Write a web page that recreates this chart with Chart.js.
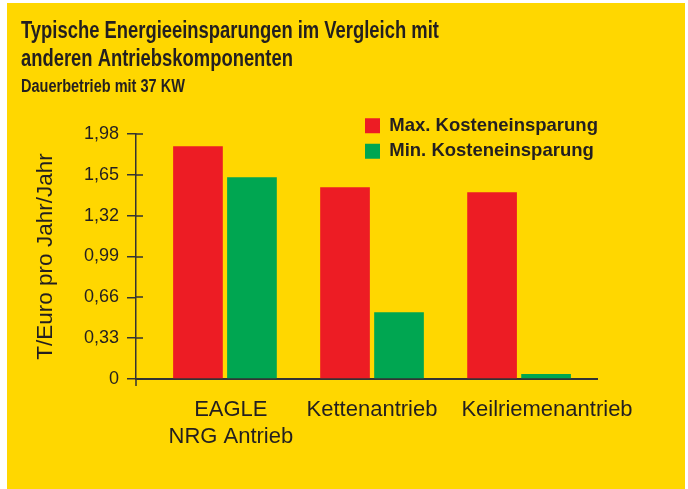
<!DOCTYPE html>
<html>
<head>
<meta charset="utf-8">
<script src="https://cdn.jsdelivr.net/npm/chart.js@4"></script>
<style>
  html, body { margin: 0; padding: 0; background: #ffffff; }
  #bg { position: absolute; left: 7px; top: 3px; width: 678px; height: 486px; background: #FFD700; }
  #c { position: absolute; left: 0; top: 0; }
</style>
</head>
<body>
<div id="bg"></div>
<canvas id="c" width="688" height="489"></canvas>
<script>
// ---- data ----
const categories = [['EAGLE', 'NRG Antrieb'], 'Kettenantrieb', 'Keilriemenantrieb'];
const seriesNames = ['Max. Kosteneinsparung', 'Min. Kosteneinsparung'];
const maxSavings = [1.88, 1.55, 1.51];
const minSavings = [1.63, 0.54, 0.04];
const yTickValues = [0, 0.33, 0.66, 0.99, 1.32, 1.65, 1.98];
const yTickLabels = ['0', '0,33', '0,66', '0,99', '1,32', '1,65', '1,98'];

// ---- layout / style ----
const labelPos = [0.04, 1.0, 2.19];   // x positions of the category labels
const TXT = '#231F20';
const AXIS = '#333333';
const SANS = '"Liberation Sans", Arial, Helvetica, sans-serif';
const TITLE_TEXT = ['Typische Energieeinsparungen im Vergleich mit', 'anderen Antriebskomponenten'];
const SUBTITLE_TEXT = 'Dauerbetrieb mit 37 KW';

const toXY = (arr) => arr.map((v, i) => ({ x: i, y: v }));

// horizontally condense a title box (the reference uses a condensed face)
function condense(box, sx) {
  if (!box || box._condensed) return;
  const orig = box.draw.bind(box);
  box.draw = function (area) {
    const ctx = this.ctx;
    ctx.save();
    ctx.translate(this.left, 0);
    ctx.scale(sx, 1);
    ctx.translate(-this.left, 0);
    orig(area);
    ctx.restore();
  };
  box._condensed = true;
}

const axisExtras = {
  id: 'axisExtras',
  afterLayout(chart) {
    const leg = chart.legend;
    if (leg) {
      leg.left = 358; leg.top = 109.5;
      leg.right = 688; leg.bottom = 175;
      leg.width = leg.right - leg.left; leg.height = leg.bottom - leg.top;
    }
    chart.boxes.forEach(b => {
      if (b === chart.titleBlock) condense(b, 0.80);
      else if (b.options && b.options.text === SUBTITLE_TEXT) condense(b, 0.83);
    });
  },
  afterDraw(chart) {
    const ctx = chart.ctx, ys = chart.scales.y, ca = chart.chartArea;
    ctx.save();
    ctx.strokeStyle = AXIS;
    ctx.lineWidth = 1.5;
    ctx.beginPath();
    ys.ticks.forEach(t => {
      const py = Math.round(ys.getPixelForValue(t.value));
      ctx.moveTo(ca.left, py);
      ctx.lineTo(ca.left + 7, py);
    });
    ctx.moveTo(ca.left, ca.bottom);
    ctx.lineTo(ca.left, ca.bottom + 7);
    ctx.stroke();
    ctx.restore();
  }
};

new Chart(document.getElementById('c'), {
  type: 'bar',
  data: {
    datasets: [
      { label: seriesNames[0], data: toXY(maxSavings), backgroundColor: '#ED1C24', borderWidth: 0 },
      { label: seriesNames[1], data: toXY(minSavings), backgroundColor: '#00A651', borderWidth: 0 }
    ]
  },
  options: {
    responsive: false,
    animation: false,
    devicePixelRatio: 1,
    categoryPercentage: 0.765,
    barPercentage: 0.92,
    layout: { padding: { left: 21, right: 91, top: 3, bottom: 0 } },
    plugins: {
      title: {
        display: true,
        text: TITLE_TEXT,
        align: 'start',
        color: TXT,
        font: { family: SANS, size: 23, weight: 'bold', lineHeight: 28 / 23 },
        padding: { top: 14.5, bottom: 3.6 }
      },
      subtitle: {
        display: true,
        text: SUBTITLE_TEXT,
        align: 'start',
        color: TXT,
        font: { family: SANS, size: 17.5, weight: 'bold', lineHeight: 20 / 17.5 },
        padding: { top: 0, bottom: 36.9 }
      },
      legend: {
        position: 'chartArea',
        align: 'start',
        labels: {
          boxWidth: 15,
          boxHeight: 15,
          padding: 7,
          color: TXT,
          font: { family: SANS, size: 18.5, weight: 'bold' }
        }
      },
      tooltip: { enabled: false }
    },
    scales: {
      x: {
        type: 'linear',
        offset: false,
        min: -0.605,
        max: 2.53,
        grid: { display: false },
        border: { display: true, color: AXIS, width: 2 },
        afterBuildTicks: (scale) => { scale.ticks = labelPos.map(v => ({ value: v })); },
        afterFit: (scale) => { scale.height = 110; },
        ticks: {
          autoSkip: false,
          maxRotation: 0,
          minRotation: 0,
          padding: 10,
          color: TXT,
          font: { family: SANS, size: 22, lineHeight: 26.7 / 22 },
          callback: (v, i) => categories[i]
        }
      },
      y: {
        type: 'linear',
        min: 0,
        max: 1.98,
        afterBuildTicks: (scale) => { scale.ticks = yTickValues.map(v => ({ value: v })); },
        afterFit: (scale) => { scale.width = 115; },
        grid: { drawOnChartArea: false, tickLength: 9, color: AXIS, lineWidth: 1.5 },
        border: { display: true, color: AXIS, width: 1.5 },
        ticks: {
          padding: 8,
          color: TXT,
          font: { family: SANS, size: 18 },
          callback: (v, i) => yTickLabels[i]
        },
        title: {
          display: true,
          text: 'T/Euro pro Jahr/Jahr',
          color: TXT,
          font: { family: SANS, size: 22.5 },
          padding: { top: 11, bottom: 24 }
        }
      }
    }
  },
  plugins: [axisExtras]
});
</script>
</body>
</html>
